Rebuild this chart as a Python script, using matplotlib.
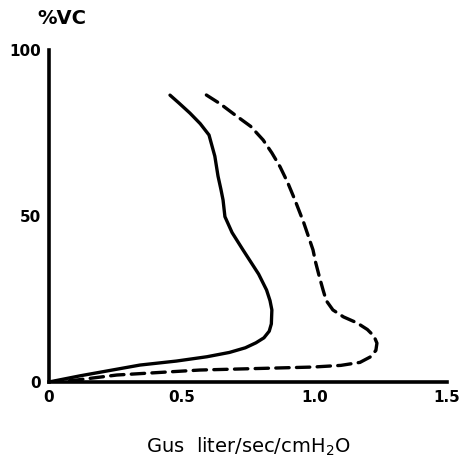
import matplotlib.pyplot as plt

# solid curve (Gus, %VC)
solid_x = [0.0, 0.12, 0.343, 0.48, 0.595, 0.68, 0.74, 0.78, 0.81, 0.83, 0.838, 0.84, 0.833, 0.82, 0.79, 0.731, 0.69, 0.663, 0.656, 0.648, 0.637, 0.625, 0.603, 0.57, 0.531, 0.49, 0.456]
solid_y = [0.0, 1.9, 5.1, 6.3, 7.6, 8.9, 10.3, 11.8, 13.3, 15.3, 17.5, 21.7, 24.5, 27.7, 32.5, 39.8, 45.0, 49.8, 54.8, 58.0, 62.0, 68.0, 74.4, 77.8, 81.0, 84.0, 86.4]

# dashed curve
dash_x = [0.0, 0.105, 0.256, 0.569, 0.995, 1.10, 1.172, 1.21, 1.232, 1.236, 1.225, 1.20, 1.161, 1.11, 1.07, 1.045, 1.033, 1.018, 1.005, 0.995, 0.96, 0.927, 0.90, 0.871, 0.84, 0.807, 0.76, 0.70, 0.645, 0.588]
dash_y = [0.0, 0.6, 2.1, 3.6, 4.5, 5.0, 5.9, 7.5, 9.5, 11.7, 13.8, 15.8, 17.8, 19.6, 21.7, 24.5, 27.7, 32.0, 36.0, 39.8, 48.0, 54.8, 60.0, 64.8, 69.0, 72.9, 77.0, 80.5, 83.8, 86.7]

xticks = [0, 0.5, 1.0, 1.5]
xlabels = ['0', '0.5', '1.0', '1.5']
yticks = [0, 50, 100]
ylabels = ['0', '50', '100']

fig = plt.figure(figsize=(4.59, 4.62), dpi=100)
ax = fig.add_axes([0.1068, 0.1732, 0.867, 0.7186])

ax.plot(solid_x, solid_y, color='black', lw=2.4, solid_capstyle='round', solid_joinstyle='round')
ax.plot(dash_x, dash_y, color='black', lw=2.4, linestyle=(0, (4, 2.2)), dash_capstyle='round')

ax.set_xlim(0, 1.5)
ax.set_ylim(0, 100)
ax.spines['top'].set_visible(False)
ax.spines['right'].set_visible(False)
ax.spines['left'].set_linewidth(2.6)
ax.spines['bottom'].set_linewidth(2.6)
ax.set_xticks(xticks)
ax.set_xticklabels(xlabels, fontsize=11, fontweight='bold')
ax.set_yticks(yticks)
ax.set_yticklabels(ylabels, fontsize=11, fontweight='bold')
ax.tick_params(length=0, pad=6)

fig.text(0.135, 0.96, '%VC', fontsize=14, fontweight='bold', ha='center', va='center')
ax.set_xlabel('Gus  liter/sec/cmH$_2$O', fontsize=14, labelpad=22)

fig.savefig('out.png', dpi=100)
